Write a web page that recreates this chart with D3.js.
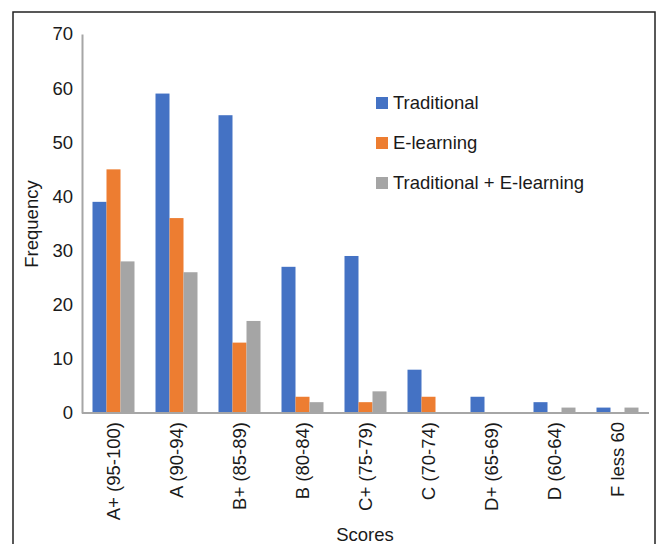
<!DOCTYPE html>
<html><head><meta charset="utf-8">
<script src="https://cdn.jsdelivr.net/npm/d3@7"></script>
<style>body{margin:0;background:#fff}svg{display:block;font-family:"Liberation Sans",Arial,sans-serif}</style>
</head><body><svg id="c" width="659" height="544"></svg>
<script>
const categories = ["A+ (95-100)","A (90-94)","B+ (85-89)","B (80-84)","C+ (75-79)","C (70-74)","D+ (65-69)","D (60-64)","F less 60"];
const seriesNames = ["Traditional","E-learning","Traditional + E-learning"];
const traditional = [39,59,55,27,29,8,3,2,1];
const eLearning = [45,36,13,3,2,3,0,0,0];
const combined = [28,26,17,2,4,0,0,1,1];
const yTicks = [0,10,20,30,40,50,60,70];
const colors = ["#4472C4","#ED7D31","#A5A5A5"];
const seriesValues = [traditional, eLearning, combined];
const FS = 18.5;

const svg = d3.select("#c");
svg.append("rect").attr("x",13).attr("y",12).attr("width",642).attr("height",560)
  .attr("fill","none").attr("stroke","#222").attr("stroke-width",1.5);

const pL=82, pR=649, pT=34, pB=413;
const x = d3.scaleBand().domain(categories).range([pL,pR]).paddingInner(1/3).paddingOuter(1/6);
const xs = d3.scaleBand().domain(seriesNames).range([0,x.bandwidth()]);
const y = d3.scaleLinear().domain([0,70]).range([pB,pT]);

const g = svg.append("g");
seriesNames.forEach((s,si)=>{
  g.selectAll(".b"+si).data(categories).enter().append("rect")
    .attr("x",d=>x(d)+xs(s))
    .attr("y",(d,i)=>y(seriesValues[si][i]))
    .attr("width",xs.bandwidth())
    .attr("height",(d,i)=>y(0)-y(seriesValues[si][i]))
    .attr("fill",colors[si]);
});

const ya = svg.append("g").attr("transform",`translate(${pL},0)`)
  .call(d3.axisLeft(y).tickValues(yTicks).tickSize(0).tickPadding(9))
  .attr("font-family",null).attr("font-size",FS);
ya.select(".domain").attr("stroke","#a6a6a6").attr("stroke-width",2);
ya.selectAll("text").attr("fill","#1a1a1a");

const xa = svg.append("g").attr("transform",`translate(0,${pB})`)
  .call(d3.axisBottom(x).tickSize(0).tickSizeOuter(0))
  .attr("font-family",null).attr("font-size",FS);
xa.select(".domain").attr("stroke","#a6a6a6").attr("stroke-width",2).attr("d",`M${pL},0H${pR}`);
xa.selectAll("text").attr("fill","#1a1a1a")
  .attr("transform","rotate(-90)").attr("text-anchor","end")
  .attr("x",-9).attr("y",0).attr("dy","0.35em");

svg.append("text").attr("transform","translate(38,224) rotate(-90)").attr("text-anchor","middle")
  .attr("font-size",FS).attr("fill","#1a1a1a").text("Frequency");
svg.append("text").attr("x",365).attr("y",541).attr("text-anchor","middle")
  .attr("font-size",FS).attr("fill","#1a1a1a").text("Scores");

const lg = svg.append("g");
seriesNames.forEach((s,i)=>{
  const cy = 103 + i*40;
  lg.append("rect").attr("x",376).attr("y",cy-6).attr("width",12).attr("height",12).attr("fill",colors[i]);
  lg.append("text").attr("x",393).attr("y",cy).attr("dy","0.35em").attr("font-size",FS).attr("fill","#1a1a1a").text(s);
});
</script></body></html>
